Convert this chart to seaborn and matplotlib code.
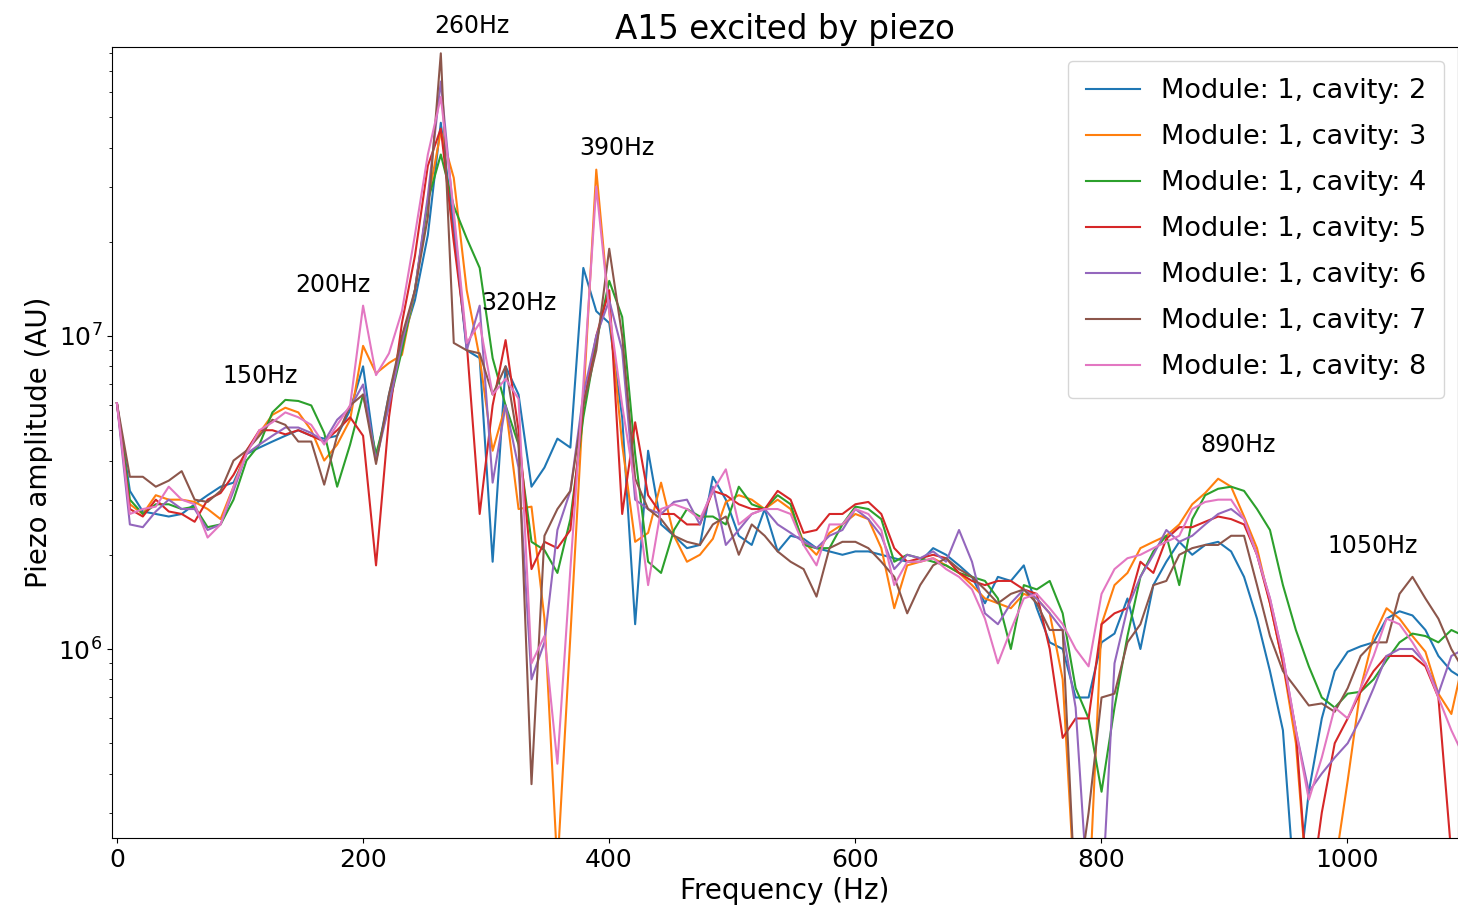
import numpy as np
import pandas as pd
import matplotlib
matplotlib.use("Agg")
import matplotlib.pyplot as plt
import seaborn as sns

# FFT bins, ~10.53 Hz apart
FREQ_STEP = 10.53
freq = np.arange(105) * FREQ_STEP

# piezo amplitude, in units of 1e6 AU
cav2 = [6.1, 3.2, 2.75, 2.7, 2.65, 2.7, 2.9, 3.1, 3.3, 3.4,
        4.2, 4.4, 4.6, 4.8, 5.0, 4.8, 4.7, 4.8, 5.8, 8.0,
        4.0, 6.5, 9.5, 13.0, 21, 48, 22, 9.0, 8.5, 1.9,
        8.0, 6.5, 3.3, 3.8, 4.7, 4.4, 16.5, 12, 11, 5.5,
        1.2, 4.3, 2.5, 2.3, 2.1, 2.15, 3.55, 3.0, 2.3, 2.15,
        2.8, 2.05, 2.3, 2.25, 2.1, 2.05, 2.0, 2.05, 2.05, 2.0,
        1.95, 1.9, 1.9, 2.1, 2.0, 1.85, 1.7, 1.4, 1.7, 1.65,
        1.85, 1.35, 1.05, 1.0, 0.7, 0.7, 1.05, 1.12, 1.45, 1.0,
        1.6, 1.9, 2.2, 2.0, 2.15, 2.2, 2.05, 1.7, 1.25, 0.85,
        0.55, 0.15, 0.35, 0.6, 0.85, 0.98, 1.02, 1.05, 1.25, 1.32,
        1.28, 1.15, 0.95, 0.85, 0.8]
cav3 = [6.1, 2.9, 2.7, 3.1, 3.0, 3.0, 2.95, 2.8, 2.6, 3.3,
        4.3, 4.9, 5.6, 5.9, 5.7, 5.0, 4.0, 4.5, 5.4, 9.3,
        7.6, 8.2, 8.7, 14, 27, 45, 32, 14, 8.5, 4.3,
        6.0, 2.8, 2.85, 1.25, 0.2, 1.1, 6.2, 34, 12, 4.5,
        2.2, 2.35, 3.4, 2.3, 1.9, 2.0, 2.25, 2.95, 3.1, 3.0,
        2.8, 3.0, 2.8, 2.2, 2.0, 2.35, 2.5, 2.7, 2.6, 2.1,
        1.35, 1.85, 1.9, 1.95, 1.85, 1.75, 1.6, 1.45, 1.4, 1.35,
        1.5, 1.45, 1.3, 0.8, 0.15, 0.15, 1.2, 1.6, 1.75, 2.1,
        2.2, 2.3, 2.5, 2.9, 3.15, 3.5, 3.3, 2.65, 2.1, 1.4,
        0.9, 0.5, 0.15, 0.15, 0.2, 0.38, 0.75, 1.1, 1.35, 1.25,
        1.1, 0.98, 0.72, 0.62, 0.95]
cav4 = [6.1, 3.0, 2.7, 2.9, 2.9, 2.8, 2.85, 2.45, 2.5, 3.0,
        4.0, 4.5, 5.7, 6.25, 6.2, 6.0, 4.9, 3.3, 4.5, 6.5,
        4.2, 6.0, 9.0, 14, 27, 38, 26, 20.5, 16.5, 8.5,
        6.0, 4.5, 2.2, 2.07, 1.75, 2.6, 5.5, 9.5, 15, 11.5,
        4.2, 1.9, 1.75, 2.4, 2.8, 2.65, 2.65, 2.5, 3.3, 2.9,
        2.8, 3.1, 2.9, 2.15, 2.1, 2.1, 2.5, 2.85, 2.8, 2.6,
        1.9, 2.0, 1.95, 1.9, 1.85, 1.75, 1.7, 1.65, 1.45, 1.0,
        1.6, 1.55, 1.65, 1.3, 0.75, 0.6, 0.35, 0.65, 1.1, 1.7,
        2.05, 2.3, 1.6, 2.6, 3.1, 3.25, 3.3, 3.2, 2.8, 2.4,
        1.6, 1.15, 0.88, 0.7, 0.65, 0.72, 0.73, 0.8, 0.92, 1.05,
        1.12, 1.1, 1.05, 1.15, 1.1]
cav5 = [6.1, 2.8, 2.65, 3.0, 2.75, 2.7, 2.55, 3.0, 3.15, 3.6,
        4.3, 5.0, 5.0, 4.85, 5.0, 4.8, 4.6, 5.0, 5.5, 4.8,
        1.85, 5.5, 11, 18, 35, 46, 20, 9.5, 2.7, 6.0,
        9.7, 5.0, 1.8, 2.2, 2.1, 2.4, 6.0, 10, 14, 2.7,
        5.3, 3.1, 2.7, 2.7, 2.5, 2.5, 3.2, 3.1, 2.9, 2.8,
        2.8, 3.2, 3.0, 2.35, 2.4, 2.7, 2.7, 2.9, 2.95, 2.7,
        2.1, 1.9, 1.95, 2.0, 1.95, 1.75, 1.65, 1.6, 1.65, 1.65,
        1.55, 1.5, 1.0, 0.52, 0.6, 0.6, 1.2, 1.3, 1.35, 1.9,
        1.75, 2.25, 2.45, 2.45, 2.55, 2.65, 2.6, 2.5, 2.0, 1.4,
        0.9, 0.55, 0.15, 0.3, 0.5, 0.6, 0.73, 0.85, 0.95, 0.95,
        0.95, 0.88, 0.7, 0.22, 0.1]
cav6 = [6.1, 2.5, 2.45, 2.75, 3.0, 2.8, 2.8, 2.4, 2.5, 3.2,
        4.2, 4.5, 4.8, 5.1, 5.1, 4.9, 4.6, 5.4, 5.9, 7.0,
        4.0, 6.0, 9.5, 14, 28, 65, 24, 9.0, 12.5, 3.4,
        6.0, 3.8, 0.8, 1.05, 2.4, 3.2, 6.5, 10, 13, 9.0,
        3.0, 2.8, 2.7, 2.95, 3.0, 2.5, 3.3, 2.15, 2.4, 2.7,
        2.8, 2.5, 2.35, 2.2, 2.1, 2.3, 2.4, 2.8, 2.6, 2.3,
        1.8, 2.0, 1.95, 2.05, 1.9, 2.4, 1.9, 1.3, 1.2, 1.4,
        1.55, 1.45, 1.3, 1.15, 0.65, 0.15, 0.15, 0.9, 1.35, 1.7,
        2.0, 2.4, 2.2, 2.3, 2.5, 2.7, 2.8, 2.6, 2.0, 1.45,
        0.95, 0.55, 0.35, 0.4, 0.45, 0.5, 0.6, 0.75, 0.95, 1.0,
        1.0, 0.9, 0.72, 0.95, 1.0]
cav7 = [6.1, 3.55, 3.55, 3.3, 3.45, 3.7, 3.0, 2.95, 3.2, 4.0,
        4.3, 4.8, 5.4, 5.2, 4.6, 4.6, 3.35, 4.8, 6.0, 6.5,
        3.9, 6.5, 10, 14, 24, 80, 9.5, 9.0, 8.8, 6.5,
        8.0, 4.5, 0.37, 2.3, 2.8, 3.2, 6.0, 9.0, 19, 10,
        3.5, 2.8, 2.6, 2.3, 2.2, 2.15, 2.5, 2.65, 2.0, 2.5,
        2.3, 2.05, 1.9, 1.8, 1.47, 2.1, 2.2, 2.2, 2.1, 1.9,
        1.7, 1.3, 1.6, 1.85, 1.95, 1.8, 1.7, 1.55, 1.4, 1.5,
        1.55, 1.4, 1.15, 1.15, 0.15, 0.3, 0.7, 0.72, 1.05, 1.2,
        1.6, 1.65, 2.0, 2.1, 2.15, 2.15, 2.3, 2.3, 1.6, 1.1,
        0.85, 0.75, 0.66, 0.67, 0.63, 0.75, 0.95, 1.05, 1.05, 1.5,
        1.7, 1.45, 1.25, 1.0, 0.85]
cav8 = [6.1, 2.7, 2.8, 2.85, 3.3, 3.0, 2.9, 2.27, 2.5, 3.3,
        4.2, 5.0, 5.3, 5.7, 5.5, 5.2, 4.5, 5.2, 6.0, 12.5,
        7.5, 8.8, 12, 21, 38, 58, 25, 9.5, 11, 6.5,
        7.3, 6.3, 0.9, 1.1, 0.43, 1.8, 7.0, 30, 12, 6.0,
        3.3, 1.6, 2.8, 2.9, 2.8, 2.6, 3.2, 3.75, 2.5, 2.7,
        2.8, 2.8, 2.7, 2.15, 1.85, 2.5, 2.5, 2.8, 2.7, 2.4,
        1.6, 1.9, 1.9, 1.95, 1.8, 1.7, 1.55, 1.25, 0.9, 1.15,
        1.45, 1.5, 1.35, 1.2, 1.0, 0.88, 1.5, 1.8, 1.95, 2.0,
        2.1, 2.2, 2.3, 2.8, 2.95, 3.0, 3.0, 2.6, 2.0, 1.45,
        0.95, 0.55, 0.33, 0.45, 0.65, 0.6, 0.75, 0.95, 1.25, 1.2,
        1.05, 0.9, 0.7, 0.55, 0.45]

cavities = [2, 3, 4, 5, 6, 7, 8]
series = [cav2, cav3, cav4, cav5, cav6, cav7, cav8]

# peak labels: text, left x (Hz), baseline y (AU)
peak_text = ["150Hz", "200Hz", "260Hz", "320Hz", "390Hz", "890Hz", "1050Hz"]
peak_x = [86, 145, 258, 296, 376, 881, 984]
peak_y = [7.1e6, 1.38e7, 9.3e7, 1.21e7, 3.8e7, 4.26e6, 2.03e6]

frames = []
for cav, amp in zip(cavities, series):
    frames.append(pd.DataFrame({
        "freq": freq,
        "amp": np.array(amp) * 1e6,
        "label": f"Module: 1, cavity: {cav}",
    }))
df = pd.concat(frames, ignore_index=True)

fig = plt.figure(figsize=(14.58, 9.18), dpi=100)
ax = fig.add_axes([112 / 1458, 80 / 918, 1346 / 1458, 791 / 918])

sns.lineplot(data=df, x="freq", y="amp", hue="label",
             palette=sns.color_palette("tab10", 7), estimator=None,
             linewidth=1.5, ax=ax)

ax.set_yscale("log")
ax.set_xlim(-4, 1090)
ax.set_ylim(2.49e5, 8.38e7)

for t, x, y in zip(peak_text, peak_x, peak_y):
    ax.text(x, y, t, fontsize=17, ha="left", va="baseline")

ax.set_title("A15 excited by piezo", fontsize=23.5)
ax.set_xlabel("Frequency (Hz)", fontsize=20)
ax.set_ylabel("Piezo amplitude (AU)", fontsize=20)
ax.tick_params(axis="both", labelsize=18)

ax.legend(loc="upper right", fontsize=19.5, labelspacing=0.74, borderpad=0.65)

fig.savefig("out.png", dpi=100)
